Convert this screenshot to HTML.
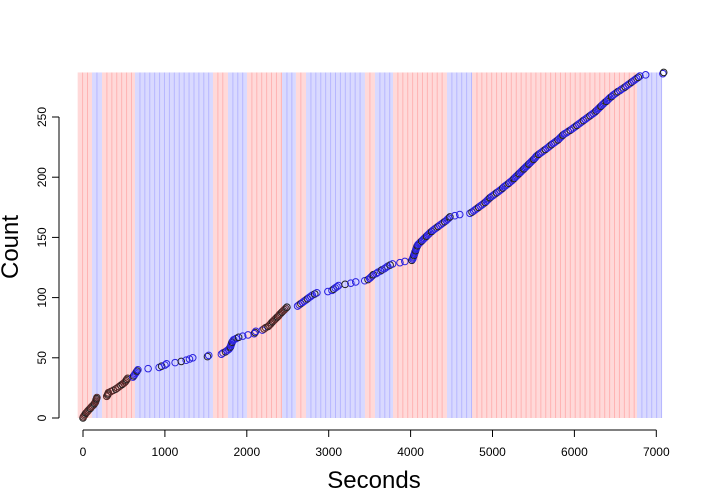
<!DOCTYPE html>
<html><head><meta charset="utf-8"><style>
html,body{margin:0;padding:0;background:#fff;}
svg{display:block;font-family:"Liberation Sans",sans-serif;}
</style></head><body>
<svg id="chart" width="720" height="504">
<g id="bands"></g>
<g id="stripes"></g>
<g id="pts"></g>
<g id="axes"></g>
<text x="374" y="488" font-size="24" text-anchor="middle">Seconds</text>
<text x="0" y="0" font-size="24" text-anchor="middle" transform="translate(18,247) rotate(-90)">Count</text>
</svg>
<script>
const xTicks=[0,1000,2000,3000,4000,5000,6000,7000];
const yTicks=[0,50,100,150,200,250];
const bandStarts=[-65,110,232,635,1587,1770,2002,2430,2600,2723,3443,3565,3785,4444,4750,6764];
const bandEnds=[110,232,635,1587,1770,2002,2430,2600,2723,3443,3565,3785,4444,4750,6764,7070];
const bandTypes=["r","b","r","b","r","b","r","b","r","b","r","b","r","b","r","b"];
const times=[0,5,15,25,35,50,60,75,90,100,115,130,140,150,155,160,165,170,
290,300,305,310,340,370,
400,420,440,460,480,500,515,525,535,545,
610,620,630,640,650,660,670,795,930,960,1000,1020,1125,1200,1260,1300,1340,1520,1535,1690,1710,
1740,1760,1780,1790,1800,1805,1810,1815,1820,1830,1840,1870,1900,1950,2015,2090,2100,2110,2190,2210,2230,
2260,2275,2290,2300,2315,2330,2345,2360,2375,2390,2400,2415,2430,2445,2460,2475,2490,
2620,2640,2660,2680,2700,2720,2740,2760,2780,2800,2830,2855,2990,3040,3060,3080,3100,3120,3200,3270,3330,3440,
3480,3500,3515,3530,3545,3580,3600,3630,3650,3680,3700,3720,3750,3780,3870,3930,4015,
4025,4030,4035,4040,4045,4050,4055,4060,4065,4070,4075,4082,4090,
4105,4120,4135,4150,4165,4180,4195,4210,4225,4240,4258,4275,
4295,4315,4335,4355,4375,4395,4415,4435,4450,4465,4480,4540,4600,4725,
4750,4770,4790,4810,4830,4850,4870,4890,4910,4925,4940,4955,4970,
4990,5010,5030,5050,5070,5090,5110,5125,5140,5160,5180,5200,5215,5235,5250,
5265,5280,5295,5310,5325,5340,5355,5370,5385,5400,5415,5430,5445,5460,5475,5490,5505,5520,5530,5545,
5565,5585,5605,5625,5645,5665,5685,5700,5720,5740,5760,5780,5800,5815,5830,5845,5860,
5880,5905,5925,5950,5970,5990,6010,6030,6050,6070,
6090,6110,6130,6150,6170,6190,6210,6230,6250,6265,6280,6295,6310,
6325,6340,6355,6370,6390,6405,6420,6435,6455,6470,
6490,6510,6530,6555,6575,6600,6620,6640,6660,6680,6700,6720,6740,6760,6780,6800,6870,7080,7090];
const maxCount=287;
const NS="http://www.w3.org/2000/svg";
const X=t=>83+t*0.0819;
const Y=c=>418-c*1.204;
function mk(tag,attrs,parent){const e=document.createElementNS(NS,tag);for(const k in attrs)e.setAttribute(k,attrs[k]);parent.appendChild(e);return e;}
const gB=document.getElementById('bands'),gS=document.getElementById('stripes'),gP=document.getElementById('pts'),gA=document.getElementById('axes');
const bandTop=Y(maxCount),bandBot=Y(0);
bandStarts.forEach((s,i)=>{
  const r=mk('rect',{x:X(s),y:bandTop,width:X(bandEnds[i])-X(s),height:bandBot-bandTop,fill:bandTypes[i]=="r"?"#ffd9d9":"#d9d9ff"},gB);
  
  
  for(let t=s+60;t<bandEnds[i]-5;t+=60){
    const l=mk('line',{x1:X(t),x2:X(t),y1:bandTop,y2:bandBot,stroke:bandTypes[i]=="r"?"#ffb3b3":"#b7b7ff","stroke-width":1},gS);
    
    
  }
});
times.forEach((t,i)=>{
  let col;
  const m=i%4;
  if(t<600||(t>2200&&t<2500)) col=m==0?"#222":"#5a2a2a";
  else col=(m==3)?"#222":"#2b22e0";
  const c=mk('circle',{cx:X(t),cy:Y(i),r:3.3,fill:"none",stroke:col,"stroke-width":1},gP);
  
  
});
const xl=mk('line',{x1:X(xTicks[0]),x2:X(xTicks[xTicks.length-1]),y1:430,y2:430,stroke:"#000"},gA);


xTicks.forEach(v=>{
  const t=mk('line',{x1:X(v),x2:X(v),y1:430,y2:437,stroke:"#000"},gA);
  
  
  const lb=mk('text',{x:X(v),y:456,"font-size":12,"text-anchor":"middle"},gA);
  lb.textContent=v;
  
  
});
const yl=mk('line',{x1:59,x2:59,y1:Y(yTicks[0]),y2:Y(yTicks[yTicks.length-1]),stroke:"#000"},gA);


yTicks.forEach(v=>{
  const t=mk('line',{x1:52,x2:59,y1:Y(v),y2:Y(v),stroke:"#000"},gA);
  
  
  const lb=mk('text',{x:0,y:0,"font-size":12,"text-anchor":"middle",transform:`translate(46,${Y(v)}) rotate(-90)`},gA);
  lb.textContent=v;
  
  
});
</script>
</body></html>
